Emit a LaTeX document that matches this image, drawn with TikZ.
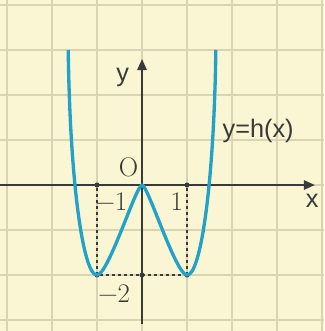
\documentclass[tikz,border=0pt]{standalone}
\usepackage{fontspec}
\newfontfamily\sansf{Liberation Sans}
\usetikzlibrary{arrows.meta}
\definecolor{bgyellow}{HTML}{FAF6D3}
\definecolor{gridc}{HTML}{D9D5B2}
\definecolor{curvec}{HTML}{22A2C8}
\definecolor{axisc}{HTML}{3A3A38}
\tikzset{
  gridline/.style={gridc, line width=1.2pt},
  axisline/.style={axisc, line width=1pt, -{Triangle[length=7pt,width=6pt]}},
  guide/.style={axisc, line width=1.3pt, dash pattern=on 2pt off 1.8pt},
  curveline/.style={curvec, line width=2.1pt, line join=round},
  sanslab/.style={font=\sansf\fontsize{16}{18}\selectfont, text=axisc, inner sep=0pt},
  seriflab/.style={font=\fontsize{17}{19}\selectfont, text=axisc, inner sep=0pt},
  pt/.style={circle, fill=axisc, inner sep=0pt, minimum size=3.2pt}
}
\begin{document}
\begin{tikzpicture}
\fill[bgyellow] (-3.156,-3.244) rectangle (4.044,4.111);
\useasboundingbox (-3.156,-3.244) rectangle (4.044,4.111);
\foreach \i in {-3,...,4} {
  \draw[gridline] (\i,-3.244) -- (\i,4.111);
  \draw[gridline] (-3.156,\i) -- (4.044,\i);
}
\coordinate (xs) at (-3.156,0);
\coordinate (xe) at (3.84,0);
\coordinate (ys) at (0,-3.08);
\coordinate (ye) at (0,2.8);
\draw[axisline] (xs) -- (xe);
\draw[axisline] (ys) -- (ye);
\node[pt] (am) at (-1,0) {};
\node[pt] (ap) at (1,0) {};
\node[pt] (bm) at (-1,-2) {};
\node[pt] (bp) at (1,-2) {};
\node[pt] (b0) at (0,-2) {};
\draw[guide] (am) -- (bm);
\draw[guide] (ap) -- (bp);
\draw[guide] (bm) -- (bp);
\draw[curveline] (-1.64,3) .. controls (-1.6,0) and (-1.3,-2.02) .. (-1,-2)
  .. controls (-0.75,-2) and (-0.13,0) .. (0,0)
  .. controls (0.13,0) and (0.75,-2) .. (1,-2)
  .. controls (1.3,-2.02) and (1.6,0) .. (1.64,3);
\node[sanslab] (ylab) at (-0.43,2.40) {y};
\node[sanslab] (xlab) at (3.78,-0.36) {x};
\node[sanslab] (hlab) at (2.58,1.19) {y=h(x)};
\node[seriflab] (olab) at (-0.30,0.40) {O};
\node[seriflab] (m1) at (-0.68,-0.38) {−1};
\node[seriflab] (p1) at (0.77,-0.38) {1};
\node[seriflab] (m2) at (-0.62,-2.42) {−2};
\end{tikzpicture}
\end{document}
